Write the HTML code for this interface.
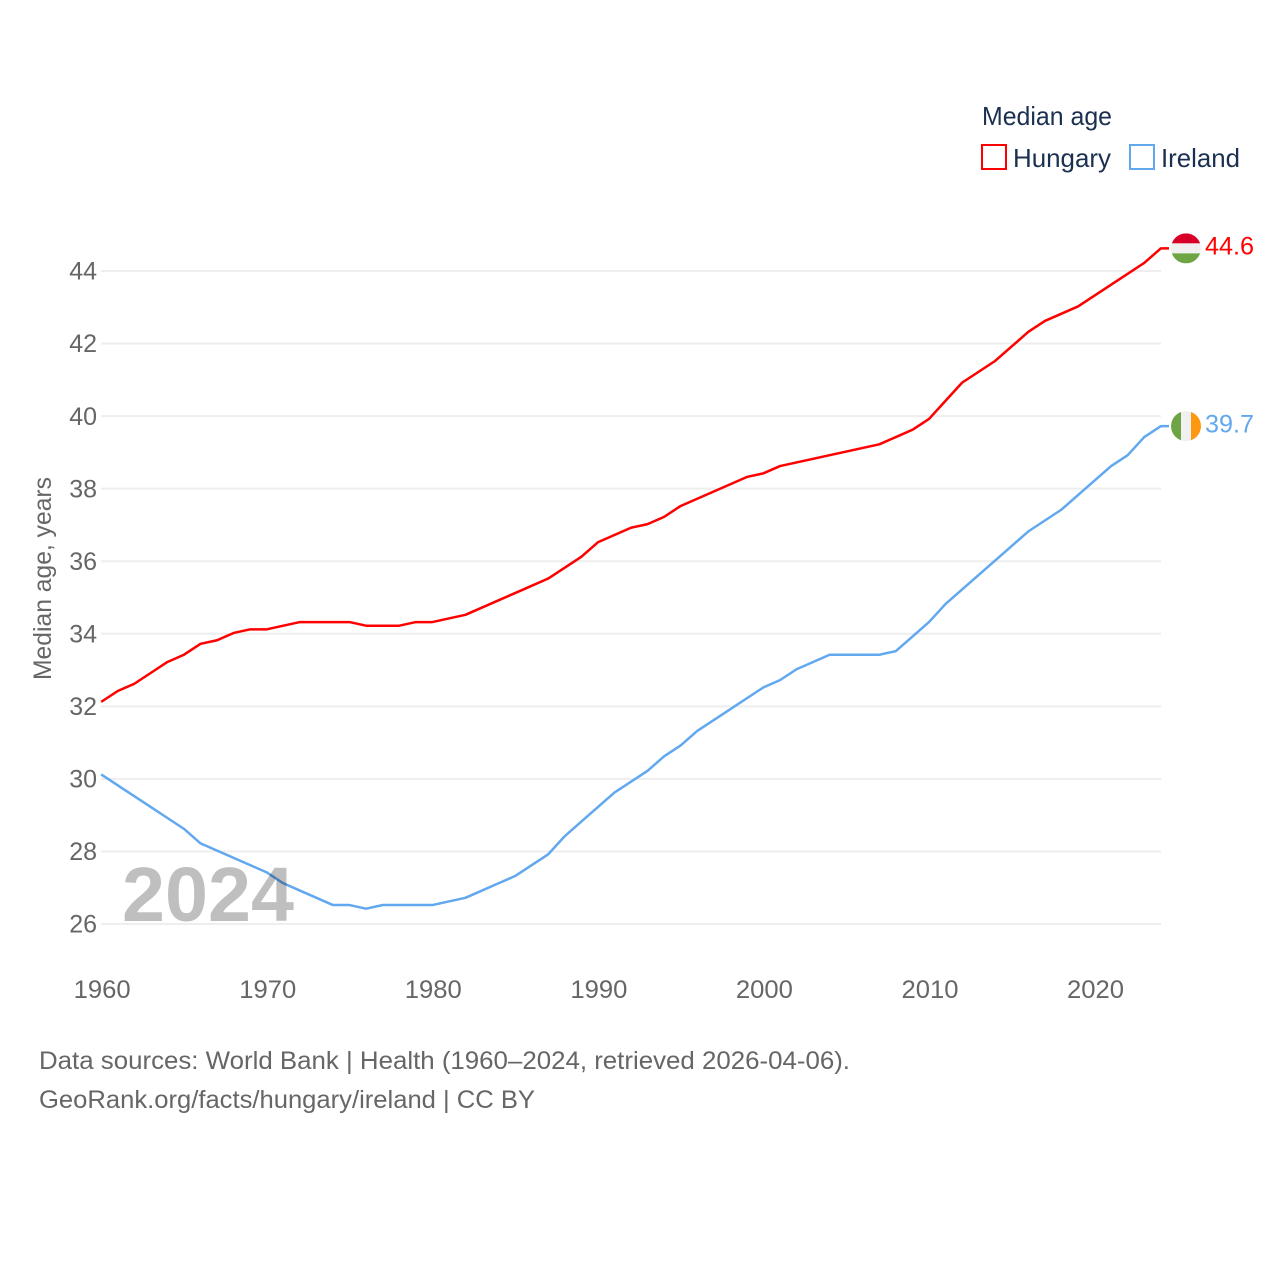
<!DOCTYPE html>
<html lang="en">
<head>
<meta charset="utf-8">
<title>Median age: Hungary and Ireland</title>
<style>
html,body{margin:0;padding:0;background:#fff;}
svg{display:block;font-family:"Liberation Sans","DejaVu Sans",sans-serif;}
</style>
</head>
<body>
<svg id="chart" width="1280" height="1280" viewBox="0 0 1280 1280" xmlns="http://www.w3.org/2000/svg">
  <rect x="0" y="0" width="1280" height="1280" fill="#ffffff"/>
  <g id="grid" transform="translate(0,0.8)"></g>
  <g id="y-ticks"></g>
  <g id="x-ticks"></g>
  <text transform="translate(51,680) rotate(-90)" font-size="25" fill="#666666" textLength="203" lengthAdjust="spacingAndGlyphs">Median age, years</text>
  <g id="series"></g>
  <text x="122" y="921" font-size="77" font-weight="700" fill="#000000" fill-opacity="0.25" textLength="172" lengthAdjust="spacingAndGlyphs">2024</text>
  <g id="end-markers"></g>
  <g>
    <text x="982" y="125" font-size="26" fill="#1b3050" textLength="130" lengthAdjust="spacingAndGlyphs">Median age</text>
    <rect x="982" y="145" width="24" height="24" fill="#ffffff" stroke="#ff0000" stroke-width="2"/>
    <text x="1013" y="167" font-size="26" fill="#1b3050" textLength="98" lengthAdjust="spacingAndGlyphs">Hungary</text>
    <rect x="1130" y="145" width="24" height="24" fill="#ffffff" stroke="#62a8ef" stroke-width="2"/>
    <text x="1161" y="167" font-size="26" fill="#1b3050" textLength="79" lengthAdjust="spacingAndGlyphs">Ireland</text>
  </g>
  <text x="39" y="1069" font-size="25" fill="#666666" textLength="811" lengthAdjust="spacingAndGlyphs">Data sources: World Bank | Health (1960–2024, retrieved 2026-04-06).</text>
  <text x="39" y="1108" font-size="25" fill="#666666" textLength="496" lengthAdjust="spacingAndGlyphs">GeoRank.org/facts/hungary/ireland | CC BY</text>
</svg>
<script>
const years = [1960,1961,1962,1963,1964,1965,1966,1967,1968,1969,1970,1971,1972,1973,1974,1975,1976,1977,1978,1979,1980,1981,1982,1983,1984,1985,1986,1987,1988,1989,1990,1991,1992,1993,1994,1995,1996,1997,1998,1999,2000,2001,2002,2003,2004,2005,2006,2007,2008,2009,2010,2011,2012,2013,2014,2015,2016,2017,2018,2019,2020,2021,2022,2023,2024];
const hungaryValues = [32.1,32.4,32.6,32.9,33.2,33.4,33.7,33.8,34.0,34.1,34.1,34.2,34.3,34.3,34.3,34.3,34.2,34.2,34.2,34.3,34.3,34.4,34.5,34.7,34.9,35.1,35.3,35.5,35.8,36.1,36.5,36.7,36.9,37.0,37.2,37.5,37.7,37.9,38.1,38.3,38.4,38.6,38.7,38.8,38.9,39.0,39.1,39.2,39.4,39.6,39.9,40.4,40.9,41.2,41.5,41.9,42.3,42.6,42.8,43.0,43.3,43.6,43.9,44.2,44.6];
const irelandValues = [30.1,29.8,29.5,29.2,28.9,28.6,28.2,28.0,27.8,27.6,27.4,27.1,26.9,26.7,26.5,26.5,26.4,26.5,26.5,26.5,26.5,26.6,26.7,26.9,27.1,27.3,27.6,27.9,28.4,28.8,29.2,29.6,29.9,30.2,30.6,30.9,31.3,31.6,31.9,32.2,32.5,32.7,33.0,33.2,33.4,33.4,33.4,33.4,33.5,33.9,34.3,34.8,35.2,35.6,36.0,36.4,36.8,37.1,37.4,37.8,38.2,38.6,38.9,39.4,39.7];
const yTickValues = [26,28,30,32,34,36,38,40,42,44];
const xTickValues = [1960,1970,1980,1990,2000,2010,2020];

const SVG_NS = 'http://www.w3.org/2000/svg';
const xScale = year => 101.2 + (year - 1960) * (1160.8 - 101.2) / 64;
const yScale = value => 923.2 - (value - 26) * 36.28;

function make(tag, attrs, parent) {
  const el = document.createElementNS(SVG_NS, tag);
  for (const key in attrs) el.setAttribute(key, attrs[key]);
  parent.appendChild(el);
  return el;
}

const gridGroup = document.getElementById('grid');
const yTickGroup = document.getElementById('y-ticks');
yTickValues.forEach(value => {
  const line = make('line', {x1: 101, x2: 1161, y1: yScale(value), y2: yScale(value), stroke: '#eeeeee', 'stroke-width': 2}, gridGroup);
  
  
  const label = make('text', {x: 97, y: yScale(value) + 9.5, 'text-anchor': 'end', 'font-size': 25, fill: '#666666'}, yTickGroup);
  label.textContent = String(value);
  
  
});

const xTickGroup = document.getElementById('x-ticks');
xTickValues.forEach(year => {
  const label = make('text', {x: xScale(year) + 1, y: 998, 'text-anchor': 'middle', 'font-size': 25, fill: '#666666', textLength: 57, lengthAdjust: 'spacingAndGlyphs'}, xTickGroup);
  label.textContent = String(year);
  
  
});

const seriesGroup = document.getElementById('series');
function drawSeries(values, color) {
  const points = values.map((value, i) => xScale(years[i]).toFixed(2) + ',' + yScale(value).toFixed(2));
  const lastY = yScale(values[values.length - 1]).toFixed(2);
  points.push('1169,' + lastY);
  return make('polyline', {points: points.join(' '), fill: 'none', stroke: color, 'stroke-width': 2.5, 'stroke-linejoin': 'round'}, seriesGroup);
}
const hungaryLine = drawSeries(hungaryValues, '#ff0000');


const irelandLine = drawSeries(irelandValues, '#62a8ef');



const markerGroup = document.getElementById('end-markers');
let clipCount = 0;
function drawFlag(cy, stripes, horizontal) {
  const flag = make('g', {}, markerGroup);
  const id = 'flag-clip-' + (clipCount++);
  const clip = make('clipPath', {id: id}, flag);
  make('circle', {cx: 1186, cy: cy, r: 15}, clip);
  const body = make('g', {'clip-path': 'url(#' + id + ')'}, flag);
  stripes.forEach((color, i) => {
    if (horizontal) make('rect', {x: 1171, y: cy - 15 + i * 10, width: 30, height: 10, fill: color}, body);
    else make('rect', {x: 1171 + i * 10, y: cy - 15, width: 10, height: 30, fill: color}, body);
  });
  return flag;
}
function drawValueLabel(value, cy, color) {
  const label = make('text', {x: 1205, y: cy + 6.2, 'font-size': 25, fill: color, textLength: 49, lengthAdjust: 'spacingAndGlyphs'}, markerGroup);
  label.textContent = value.toFixed(1);
  return label;
}

const hungaryLast = hungaryValues[hungaryValues.length - 1];
const hungaryFlag = drawFlag(yScale(hungaryLast), ['#d80027', '#f0f0f0', '#6da544'], true);


const hungaryLabel = drawValueLabel(hungaryLast, yScale(hungaryLast), '#ff0000');



const irelandLast = irelandValues[irelandValues.length - 1];
const irelandFlag = drawFlag(yScale(irelandLast), ['#6da544', '#f0f0f0', '#ff9811'], false);


const irelandLabel = drawValueLabel(irelandLast, yScale(irelandLast), '#62a8ef');


</script>
</body>
</html>
